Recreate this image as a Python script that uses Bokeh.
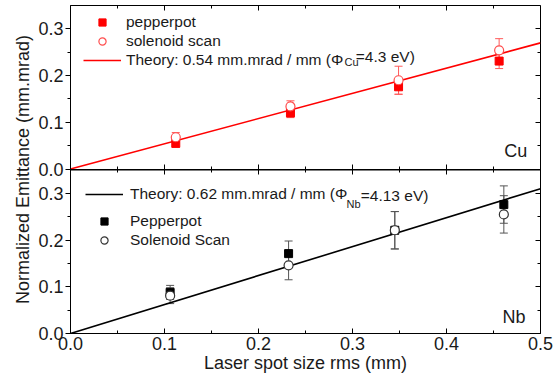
import math
from bokeh.plotting import figure
from bokeh.models import (ColumnDataSource, Whisker, TeeHead, Legend, LegendItem, Label,
                          LinearAxis, FixedTicker, Range1d, PrintfTickFormatter,
                          CustomJSTickFormatter, CustomLabelingPolicy, Span)
from bokeh.embed import file_html
from bokeh.resources import INLINE

FONT = "Liberation Sans"
TXT = "#1a1a1a"

# ---------------- data ----------------
x_ticks = [0.0, 0.1, 0.2, 0.3, 0.4, 0.5]
x_minor = [0.05, 0.15, 0.25, 0.35, 0.45]
y_ticks = [0.0, 0.1, 0.2, 0.3]
y_minor = [0.05, 0.15, 0.25]

# Cu panel
cu_x = [0.112, 0.234, 0.349, 0.456]
cu_pp_y = [0.055, 0.120, 0.176, 0.231]
cu_pp_err = [0.009, 0.010, 0.016, 0.016]
cu_sol_y = [0.068, 0.134, 0.190, 0.254]
cu_sol_err = [0.010, 0.012, 0.030, 0.025]
theory_x = [0.0, 0.5]
cu_theory_y = [0.0, 0.27]

# Nb panel
nb_x = [0.106, 0.232, 0.345, 0.461]
nb_pp_y = [0.088, 0.171, 0.221, 0.276]
nb_pp_err = [0.015, 0.027, 0.040, 0.040]
nb_sol_y = [0.081, 0.146, 0.221, 0.255]
nb_sol_err = [0.017, 0.031, 0.040, 0.040]
nb_theory_y = [0.0, 0.31]

# ---------------- panel geometry ----------------
YMAX = 0.35                 # each panel shows 0 .. 0.35
GAP = YMAX / 163.5          # about one pixel between the two panels
OFF = YMAX + GAP            # offset of the Cu panel on the shared axis
TOTAL = 2 * YMAX + GAP

p = figure(width=559, height=378, x_range=Range1d(0, 0.5), y_range=Range1d(0, TOTAL),
           output_backend="svg", toolbar_location=None,
           min_border_left=70, min_border_right=19, min_border_top=5, min_border_bottom=45,
           x_axis_location=None, y_axis_location=None)
p.extra_y_ranges = {"cu": Range1d(-OFF, YMAX)}
p.grid.visible = False
p.outline_line_color = "black"
p.outline_line_alpha = 1
p.background_fill_color = "white"
p.border_fill_color = "white"

all_y_ticks = y_ticks + [OFF + t for t in y_ticks]
all_y_minor = y_minor + [OFF + t for t in y_minor]

no_labels = CustomLabelingPolicy(code="return new Set()")


def style_ticks(ax, tin, tout, mtin, mtout):
    ax.axis_line_color = "black"
    ax.major_tick_line_color = "black"
    ax.minor_tick_line_color = "black"
    ax.major_tick_in = tin
    ax.major_tick_out = tout
    ax.minor_tick_in = mtin
    ax.minor_tick_out = mtout


# left axis: both panels, labels shifted back for the Cu panel
left = LinearAxis(ticker=FixedTicker(ticks=all_y_ticks, minor_ticks=all_y_minor),
                  formatter=CustomJSTickFormatter(code=f"""
                      let v = tick > {YMAX + GAP / 2} ? tick - {OFF} : tick;
                      v = Math.round(v * 10) / 10;
                      return v.toFixed(1);"""))
style_ticks(left, 0, 5, 0, 3)
left.major_label_text_font = FONT
left.major_label_text_font_size = "18px"
left.major_label_text_color = TXT
left.major_label_standoff = 2
left.axis_label = "Normalized Emittance (mm.mrad)"
left.axis_label_text_font = FONT
left.axis_label_text_font_size = "18px"
left.axis_label_text_font_style = "normal"
left.axis_label_text_color = TXT
left.axis_label_standoff = 2
p.add_layout(left, "left")

# right axis (ticks only)
right = LinearAxis(ticker=FixedTicker(ticks=all_y_ticks, minor_ticks=all_y_minor),
                   fixed_location=0.5, major_label_policy=no_labels)
style_ticks(right, 5, 0, 3, 0)
p.add_layout(right, "right")

# top axis (ticks only)
top_ax = LinearAxis(ticker=FixedTicker(ticks=x_ticks, minor_ticks=x_minor),
                    fixed_location=TOTAL, major_label_policy=no_labels)
style_ticks(top_ax, 5, 0, 3, 0)
p.add_layout(top_ax, "above")

# divider between the panels (ticks crossing both panels)
div_ax = LinearAxis(ticker=FixedTicker(ticks=x_ticks, minor_ticks=x_minor),
                    fixed_location=OFF, major_label_policy=no_labels)
style_ticks(div_ax, 5, 5, 3, 3)
p.add_layout(div_ax, "below")
p.add_layout(Span(location=YMAX, dimension="width", line_color="black", line_width=1))

# bottom axis
bottom = LinearAxis(ticker=FixedTicker(ticks=x_ticks, minor_ticks=x_minor),
                    formatter=PrintfTickFormatter(format="%.1f"))
style_ticks(bottom, 5, 0, 3, 0)
bottom.major_label_text_font = FONT
bottom.major_label_text_font_size = "18px"
bottom.major_label_text_color = TXT
bottom.major_label_standoff = 3
bottom.axis_label = "Laser spot size rms (mm)"
bottom.axis_label_text_font = FONT
bottom.axis_label_text_font_size = "18px"
bottom.axis_label_text_font_style = "normal"
bottom.axis_label_text_color = TXT
bottom.axis_label_standoff = 0
p.add_layout(bottom, "below")


def err_source(xs, ys, es):
    return ColumnDataSource(dict(x=xs, y=ys,
                                 lo=[a - b for a, b in zip(ys, es)],
                                 hi=[a + b for a, b in zip(ys, es)]))


def add_whisker(src, col, yr):
    w = Whisker(source=src, base="x", lower="lo", upper="hi", dimension="height",
                line_color=col, line_width=1, y_range_name=yr,
                upper_head=TeeHead(size=8, line_color=col, line_width=1),
                lower_head=TeeHead(size=8, line_color=col, line_width=1))
    w.level = "underlay"
    p.add_layout(w)


def legend(items, loc, standoff):
    return Legend(items=items, location=loc, glyph_width=38, glyph_height=18, label_height=18,
                  spacing=1, padding=0, margin=0, label_standoff=standoff,
                  label_text_font=FONT, label_text_font_size="15.5px", label_text_color=TXT,
                  border_line_alpha=0, background_fill_alpha=0)


# ---------------- Cu panel ----------------
RED = "#ff0000"
ERR_RED = "#ff5a5a"
cu_pp_src = err_source(cu_x, cu_pp_y, cu_pp_err)
cu_sol_src = err_source(cu_x, cu_sol_y, cu_sol_err)
add_whisker(cu_pp_src, ERR_RED, "cu")
add_whisker(cu_sol_src, ERR_RED, "cu")

cu_line = p.line(theory_x, cu_theory_y, line_color=RED, line_width=1.6, y_range_name="cu")
cu_sq = p.scatter("x", "y", source=cu_pp_src, marker="square", size=8,
                  fill_color=RED, line_color=RED, y_range_name="cu")
cu_ci = p.scatter("x", "y", source=cu_sol_src, marker="circle", size=9,
                  fill_color="white", line_color="#ff4d4d", line_width=1.2, y_range_name="cu")

p.add_layout(legend([LegendItem(label="pepperpot", renderers=[cu_sq]),
                     LegendItem(label="solenoid scan", renderers=[cu_ci]),
                     LegendItem(label="Theory: 0.54 mm.mrad / mm (\u03a6", renderers=[cu_line])],
                    (13, 264), 5))
p.add_layout(Label(x=0.2915, y=0.229, text="Cu", text_font=FONT, text_font_size="11px",
                   text_baseline="middle", text_color=TXT, y_range_name="cu"))
p.add_layout(Label(x=0.3035, y=0.240, text="=4.3 eV)", text_font=FONT, text_font_size="15.5px",
                   text_baseline="middle", text_color=TXT, y_range_name="cu"))
p.add_layout(Label(x=0.486, y=0.039, text="Cu", text_font=FONT, text_font_size="18px",
                   text_align="right", text_baseline="middle", text_color=TXT,
                   y_range_name="cu"))

# ---------------- Nb panel ----------------
ERR_GRAY = "#555555"
nb_pp_src = err_source(nb_x, nb_pp_y, nb_pp_err)
nb_sol_src = err_source(nb_x, nb_sol_y, nb_sol_err)
add_whisker(nb_pp_src, ERR_GRAY, "default")
add_whisker(nb_sol_src, ERR_GRAY, "default")

nb_line = p.line(theory_x, nb_theory_y, line_color="black", line_width=1.6)
nb_sq = p.scatter("x", "y", source=nb_pp_src, marker="square", size=8,
                  fill_color="black", line_color="black")
nb_ci = p.scatter("x", "y", source=nb_sol_src, marker="circle", size=9,
                  fill_color="white", line_color="#333333", line_width=1.2)

p.add_layout(legend([LegendItem(label="Theory: 0.62 mm.mrad / mm (\u03a6", renderers=[nb_line])],
                    (15, 130), 7))
p.add_layout(legend([LegendItem(label="Pepperpot", renderers=[nb_sq]),
                     LegendItem(label="Solenoid Scan", renderers=[nb_ci])],
                    (15, 84), 7))
p.add_layout(Label(x=0.2936, y=0.278, text="Nb", text_font=FONT, text_font_size="11px",
                   text_baseline="middle", text_color=TXT))
p.add_layout(Label(x=0.3088, y=0.2955, text="=4.13 eV)", text_font=FONT, text_font_size="15.5px",
                   text_baseline="middle", text_color=TXT))
p.add_layout(Label(x=0.484, y=0.036, text="Nb", text_font=FONT, text_font_size="18px",
                   text_align="right", text_baseline="middle", text_color=TXT))

open("out.html", "w").write(file_html(p, INLINE))
